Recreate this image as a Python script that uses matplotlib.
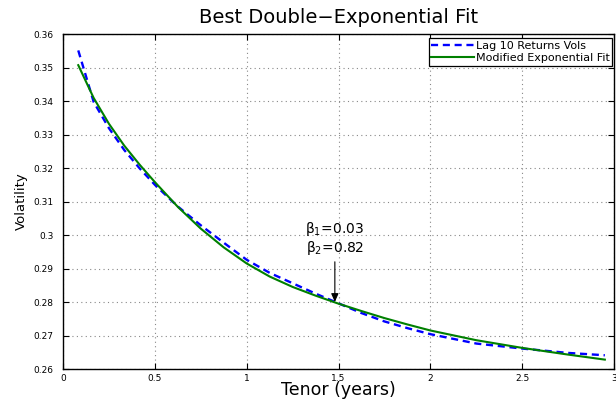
import matplotlib
matplotlib.use("Agg")
import matplotlib.pyplot as plt
from matplotlib.ticker import FormatStrFormatter

# tenor (years)
tenor = [0.083, 0.167, 0.25, 0.333, 0.417, 0.5, 0.625, 0.75, 0.875, 1.0, 1.125,
         1.25, 1.375, 1.5, 1.625, 1.75, 1.875, 2.0, 2.25, 2.5, 2.75, 2.95]
# measured vols (lag 10 returns)
lag10_vols = [0.3551, 0.3397, 0.3319, 0.3254, 0.3199, 0.3150, 0.3085, 0.3029, 0.2977, 0.2926, 0.2887,
              0.2856, 0.2825, 0.2796, 0.2767, 0.2742, 0.2722, 0.2704, 0.2676, 0.2661, 0.2648, 0.2641]
# modified exponential fit
fit_vols = [0.3507, 0.3409, 0.3332, 0.3267, 0.3210, 0.3158, 0.3084, 0.3019, 0.2963, 0.2915, 0.2876,
            0.2845, 0.2819, 0.2795, 0.2773, 0.2752, 0.2733, 0.2715, 0.2686, 0.2663, 0.2643, 0.2628]

beta_1 = 0.03
beta_2 = 0.82
ann_tenor = 1.48
ann_vol = 0.2800
ann_text_vol = 0.2920

x_ticks = [0, 0.5, 1, 1.5, 2, 2.5, 3]
y_ticks = [0.26, 0.27, 0.28, 0.29, 0.30, 0.31, 0.32, 0.33, 0.34, 0.35, 0.36]

plt.rcParams['font.family'] = ['DejaVu Sans']

fig = plt.figure(figsize=(6.16, 4.01), dpi=100)
ax = fig.add_axes([0.1023, 0.0798, 0.8945, 0.8354])

ax.plot(tenor, lag10_vols, color='#0000ff', linestyle=(0, (3, 2)), linewidth=1.7,
        label='Lag 10 Returns Vols')
ax.plot(tenor, fit_vols, color='#008000', linewidth=1.5, label='Modified Exponential Fit')

ax.set_xlim(0, 3)
ax.set_ylim(0.26, 0.36)
ax.set_xticks(x_ticks)
ax.set_yticks(y_ticks)
ax.xaxis.set_major_formatter(FormatStrFormatter('%g'))
ax.yaxis.set_major_formatter(FormatStrFormatter('%g'))
ax.tick_params(direction='in', length=4, width=0.8, top=True, right=True, labelsize=6.5)
ax.tick_params(axis='y', pad=7)
ax.tick_params(axis='x', pad=3.5)
ax.grid(True, linestyle=(0, (1, 3)), color='#888888', linewidth=0.8)
for s in ax.spines.values():
    s.set_linewidth(1.0)

ax.set_title('Best Double\u2212Exponential Fit', fontsize=14, pad=8)
ax.set_xlabel('Tenor (years)', fontsize=12.5, labelpad=-1)
ax.set_ylabel('Volatility', fontsize=9.5, labelpad=4)

# beta annotation
ax.text(ann_tenor, ann_text_vol + 0.0014,
        'β$_1$=%.2f\nβ$_2$=%.2f' % (beta_1, beta_2),
        ha='center', va='bottom', fontsize=10, linespacing=1.05)
ax.annotate('', xy=(ann_tenor, ann_vol), xytext=(ann_tenor, ann_text_vol),
            arrowprops=dict(arrowstyle='-|>,head_length=0.5,head_width=0.22',
                            color='black', lw=0.8, shrinkA=0, shrinkB=0))

leg = ax.legend(loc='upper right', bbox_to_anchor=(0.997, 0.987), borderaxespad=0,
                fontsize=8, frameon=True, fancybox=False, handlelength=3.8,
                handletextpad=0.2, borderpad=0.25, labelspacing=0.15)
leg.get_frame().set_edgecolor('black')
leg.get_frame().set_linewidth(0.9)
leg.get_frame().set_alpha(1)

fig.savefig('out.png', dpi=100)
